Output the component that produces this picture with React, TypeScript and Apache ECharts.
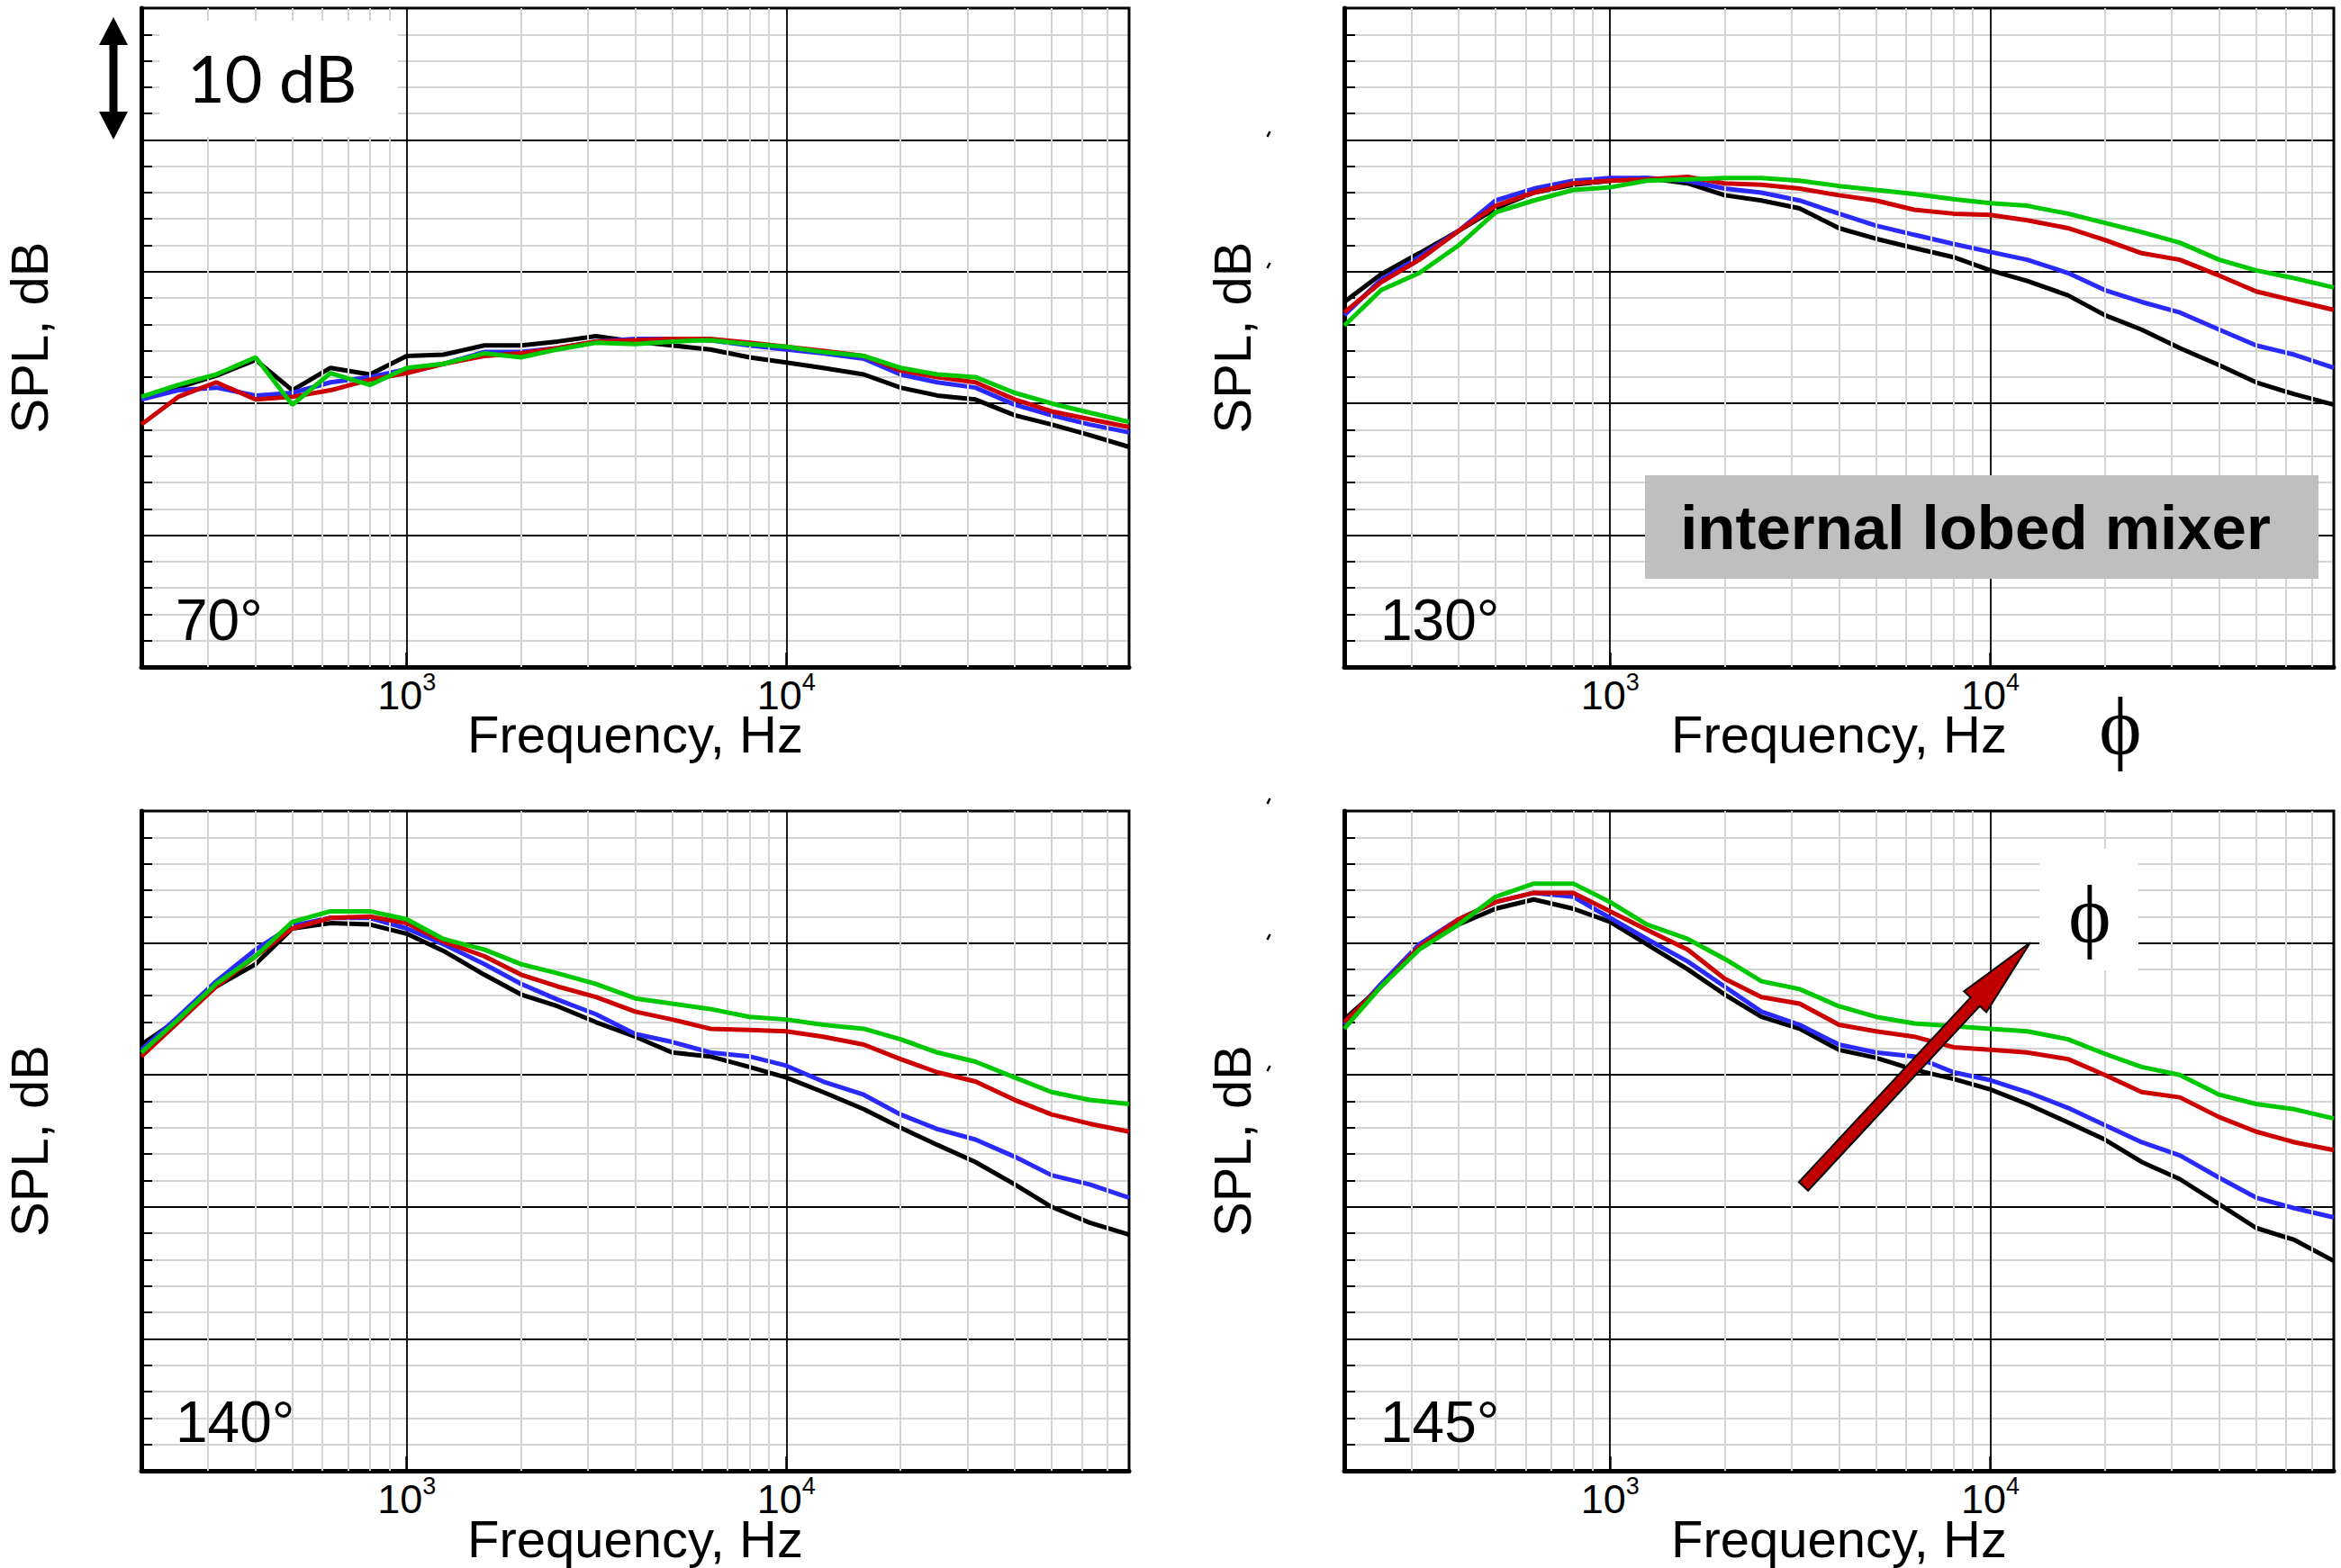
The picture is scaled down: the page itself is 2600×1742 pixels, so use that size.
import React, { useEffect, useRef } from "react";
import * as echarts from "echarts";

const FREQ = [200, 250, 315, 400, 500, 630, 800, 1000, 1250, 1600, 2000, 2500, 3150, 4000, 5000, 6300, 8000, 10000, 12500, 16000, 20000, 25000, 31500, 40000, 50000, 63000, 80000];

const P70_BLACK = [20.4, 21.2, 22.1, 23.3, 21.0, 22.7, 22.2, 23.6, 23.7, 24.4, 24.4, 24.7, 25.1, 24.7, 24.4, 24.1, 23.5, 23.1, 22.7, 22.2, 21.2, 20.6, 20.3, 19.1, 18.4, 17.6, 16.7];
const P70_BLUE = [20.3, 21.0, 21.2, 20.6, 20.8, 21.6, 22.0, 22.6, 23.0, 23.9, 23.9, 24.2, 24.7, 24.9, 24.9, 24.8, 24.4, 24.1, 23.8, 23.4, 22.2, 21.6, 21.2, 19.9, 19.1, 18.4, 17.8];
const P70_RED = [18.4, 20.5, 21.6, 20.3, 20.5, 21.0, 21.8, 22.3, 23.0, 23.6, 23.8, 24.2, 24.7, 24.8, 24.9, 24.9, 24.6, 24.3, 24.0, 23.6, 22.5, 22.0, 21.6, 20.3, 19.4, 18.8, 18.2];
const P70_GREEN = [20.5, 21.4, 22.2, 23.5, 19.9, 22.3, 21.4, 22.7, 23.0, 23.8, 23.5, 24.1, 24.6, 24.5, 24.7, 24.8, 24.5, 24.3, 23.9, 23.6, 22.7, 22.2, 22.0, 20.8, 20.0, 19.3, 18.6];

const P130_BLACK = [27.7, 29.8, 31.4, 33.1, 34.8, 36.0, 36.6, 36.9, 37.1, 36.7, 35.8, 35.4, 34.8, 33.3, 32.5, 31.8, 31.1, 30.1, 29.3, 28.2, 26.7, 25.6, 24.2, 22.9, 21.6, 20.7, 19.9];
const P130_BLUE = [26.7, 29.4, 31.1, 33.1, 35.4, 36.3, 36.9, 37.1, 37.1, 36.9, 36.3, 36.0, 35.4, 34.4, 33.5, 32.8, 32.1, 31.5, 30.9, 29.9, 28.6, 27.7, 26.9, 25.6, 24.4, 23.7, 22.7];
const P130_RED = [26.9, 29.2, 30.9, 33.1, 35.0, 36.0, 36.7, 36.9, 37.0, 37.2, 36.7, 36.6, 36.3, 35.8, 35.4, 34.7, 34.4, 34.3, 33.9, 33.3, 32.4, 31.4, 30.9, 29.7, 28.5, 27.8, 27.1];
const P130_GREEN = [25.9, 28.6, 29.9, 32.0, 34.5, 35.4, 36.2, 36.4, 36.9, 37.0, 37.1, 37.1, 36.9, 36.5, 36.2, 35.9, 35.5, 35.2, 35.0, 34.4, 33.7, 33.0, 32.2, 30.9, 30.1, 29.5, 28.8];

const P140_BLACK = [32.3, 34.2, 36.7, 38.4, 41.1, 41.5, 41.4, 40.7, 39.4, 37.6, 36.1, 35.2, 34.0, 32.9, 31.7, 31.4, 30.6, 29.8, 28.7, 27.4, 26.0, 24.7, 23.4, 21.7, 20.0, 18.8, 17.9];
const P140_BLUE = [31.9, 34.4, 37.1, 39.5, 41.3, 41.9, 41.9, 41.1, 39.9, 38.4, 36.9, 35.7, 34.6, 33.1, 32.5, 31.7, 31.4, 30.7, 29.5, 28.5, 27.0, 25.9, 25.1, 23.8, 22.4, 21.7, 20.7];
const P140_RED = [31.4, 34.0, 36.7, 39.0, 41.1, 41.9, 42.0, 41.5, 40.1, 39.0, 37.6, 36.7, 35.9, 34.8, 34.2, 33.5, 33.4, 33.3, 32.9, 32.3, 31.2, 30.2, 29.5, 28.1, 27.0, 26.3, 25.7];
const P140_GREEN = [31.7, 34.2, 36.9, 39.0, 41.6, 42.4, 42.4, 41.8, 40.3, 39.5, 38.4, 37.7, 36.9, 35.8, 35.4, 35.0, 34.4, 34.2, 33.8, 33.5, 32.7, 31.7, 31.0, 29.8, 28.7, 28.1, 27.8];

const P145_BLACK = [34.2, 36.7, 39.7, 41.4, 42.6, 43.3, 42.6, 41.6, 39.9, 38.0, 36.1, 34.4, 33.5, 31.9, 31.3, 30.4, 29.7, 28.9, 27.8, 26.4, 25.1, 23.4, 22.1, 20.2, 18.4, 17.5, 15.9];
const P145_BLUE = [33.8, 36.9, 39.9, 41.8, 43.1, 43.8, 43.5, 41.9, 40.3, 38.6, 36.7, 34.8, 33.8, 32.3, 31.7, 31.4, 30.2, 29.6, 28.7, 27.5, 26.2, 24.9, 23.9, 22.2, 20.7, 19.9, 19.2];
const P145_RED = [34.0, 36.7, 39.7, 41.8, 43.1, 43.8, 43.8, 42.4, 41.0, 39.5, 37.3, 35.9, 35.4, 33.8, 33.3, 32.9, 32.1, 31.9, 31.7, 31.2, 30.0, 28.7, 28.3, 26.8, 25.7, 24.9, 24.3];
const P145_GREEN = [33.5, 36.7, 39.5, 41.4, 43.5, 44.5, 44.5, 43.1, 41.4, 40.3, 38.8, 37.1, 36.5, 35.2, 34.4, 33.9, 33.7, 33.5, 33.3, 32.7, 31.6, 30.6, 30.0, 28.5, 27.8, 27.4, 26.7];

const ANGLE_LABELS = ["70°", "130°", "140°", "145°"];
const MINOR_FREQS = [300, 400, 500, 600, 700, 800, 900, 2000, 3000, 4000, 5000, 6000, 7000, 8000, 9000, 20000, 30000, 40000, 50000, 60000, 70000];
const SERIES_COLORS = ["#000000", "#2a2aff", "#cc0000", "#00c800"];

const PANELS = [
  [P70_BLACK, P70_BLUE, P70_RED, P70_GREEN],
  [P130_BLACK, P130_BLUE, P130_RED, P130_GREEN],
  [P140_BLACK, P140_BLUE, P140_RED, P140_GREEN],
  [P145_BLACK, P145_BLUE, P145_RED, P145_GREEN],
];

const SANS = "'Liberation Sans', Arial, sans-serif";
const SERIF = "'Liberation Serif', 'Times New Roman', serif";

const GRIDS = [
  { left: 157, top: 9, width: 1097, height: 732 },
  { left: 1493, top: 9, width: 1099, height: 732 },
  { left: 157, top: 901, width: 1097, height: 733 },
  { left: 1493, top: 901, width: 1099, height: 733 },
];
const X_NAME_GAPS = [45, 45, 46, 46];

function arrowPoints(tail: number[], tip: number[], shaftHalf: number, headHalf: number, headLen: number) {
  const dx = tip[0] - tail[0];
  const dy = tip[1] - tail[1];
  const len = Math.sqrt(dx * dx + dy * dy);
  const ux = dx / len, uy = dy / len;
  const nx = -uy, ny = ux;
  const bx = tip[0] - ux * headLen, by = tip[1] - uy * headLen;
  return [
    [tail[0] + nx * shaftHalf, tail[1] + ny * shaftHalf],
    [bx + nx * shaftHalf, by + ny * shaftHalf],
    [bx + nx * headHalf, by + ny * headHalf],
    [tip[0], tip[1]],
    [bx - nx * headHalf, by - ny * headHalf],
    [bx - nx * shaftHalf, by - ny * shaftHalf],
    [tail[0] - nx * shaftHalf, tail[1] - ny * shaftHalf],
  ];
}

function doubleArrowPoints(cx: number, top: number, bottom: number, shaftHalf: number, headHalf: number, headLen: number) {
  return [
    [cx, top],
    [cx + headHalf, top + headLen],
    [cx + shaftHalf, top + headLen],
    [cx + shaftHalf, bottom - headLen],
    [cx + headHalf, bottom - headLen],
    [cx, bottom],
    [cx - headHalf, bottom - headLen],
    [cx - shaftHalf, bottom - headLen],
    [cx - shaftHalf, top + headLen],
    [cx - headHalf, top + headLen],
  ];
}

function buildOption() {
  const grid = GRIDS.map((g) => ({
    ...g,
    show: true,
    borderColor: "#000",
    borderWidth: 3,
    backgroundColor: "transparent",
    z: 1.7,
  }));

  const xAxis = GRIDS.map((_, i) => ({
    type: "log",
    logBase: 10,
    gridIndex: i,
    min: 200,
    max: 80000,
    z: 1.6,
    name: "Frequency, Hz",
    nameLocation: "middle",
    nameGap: X_NAME_GAPS[i],
    nameMoveOverlap: false,
    nameTextStyle: { fontSize: 58, fontFamily: SANS, color: "#000" },
    axisLine: { show: true, lineStyle: { color: "#000", width: 5 } },
    axisTick: { show: true, inside: true, length: 16, lineStyle: { color: "#000", width: 2.5 } },
    splitLine: { show: true, lineStyle: { color: "#000", width: 1.8 } },
    minorTick: { show: false },
    minorSplitLine: { show: false },
    axisLabel: {
      show: true,
      margin: 3,
      showMinLabel: false,
      showMaxLabel: false,
      color: "#000",
      formatter: (v: number) => {
        const lg = Math.log10(v);
        const e = Math.round(lg);
        if (Math.abs(lg - e) < 1e-6 && (e === 3 || e === 4)) return `{b|10}{s|${e}}`;
        return "";
      },
      rich: {
        b: { fontSize: 45, fontFamily: SANS, color: "#000" },
        s: { fontSize: 27, fontFamily: SANS, color: "#000", padding: [0, 0, 30, 0] },
      },
    },
  }));

  const yAxis = GRIDS.map((_, i) => ({
    type: "value",
    gridIndex: i,
    min: 0,
    max: 50,
    interval: 10,
    z: 1.5,
    name: "SPL, dB",
    nameLocation: "middle",
    nameGap: 96,
    nameMoveOverlap: false,
    nameTextStyle: { fontSize: 58, fontFamily: SANS, color: "#000" },
    axisLine: { show: true, lineStyle: { color: "#000", width: 5 } },
    axisTick: { show: true, inside: true, length: 20, lineStyle: { color: "#000", width: 2 } },
    minorTick: { show: true, splitNumber: 5, length: 12, lineStyle: { color: "#000", width: 2 } },
    splitLine: { show: true, lineStyle: { color: "#000", width: 1.8 } },
    minorSplitLine: { show: true, lineStyle: { color: "#d4d4d4", width: 2 } },
    axisLabel: { show: false },
  }));

  const series: any[] = [];
  GRIDS.forEach((_, i) => {
    series.push({
      type: "line",
      xAxisIndex: i,
      yAxisIndex: i,
      data: [],
      z: 1,
      silent: true,
      markLine: {
        silent: true,
        symbol: ["none", "none"],
        label: { show: false },
        lineStyle: { color: "#d4d4d4", width: 2, type: "solid" },
        data: MINOR_FREQS.map((f) => ({ xAxis: f })),
      },
    });
    PANELS[i].forEach((vals, k) => {
      series.push({
        type: "line",
        xAxisIndex: i,
        yAxisIndex: i,
        z: 3 + k,
        showSymbol: false,
        symbol: "none",
        lineStyle: { color: SERIES_COLORS[k], width: 5 },
        itemStyle: { color: SERIES_COLORS[k] },
        data: FREQ.map((f, j) => [f, vals[j]]),
      });
    });
  });

  const labelPos = [
    [195, 689],
    [1533, 689],
    [195, 1580],
    [1533, 1580],
  ];

  const graphic: any[] = [
    // white box behind "10 dB"
    { type: "rect", z: 100, shape: { x: 177, y: 23, width: 265, height: 129 }, style: { fill: "#fff" } },
    { type: "text", z: 101, style: { text: "10 dB", x: 208, y: 86, fontSize: 72, fontFamily: "Lato, sans-serif", fill: "#000", align: "left", verticalAlign: "middle" } },
    { type: "polygon", z: 101, shape: { points: doubleArrowPoints(126, 19, 155, 4.5, 16, 31) }, style: { fill: "#000" } },
    // gray label box
    { type: "rect", z: 100, shape: { x: 1827, y: 528, width: 748, height: 115 }, style: { fill: "#bfbfbf" } },
    { type: "text", z: 101, style: { text: "internal lobed mixer", x: 2194, y: 586, fontSize: 69, fontWeight: "bold", fontFamily: SANS, fill: "#000", align: "center", verticalAlign: "middle" } },
    // phi below panel 2
    { type: "text", z: 101, style: { text: "ϕ", x: 2355, y: 807, fontSize: 90, fontFamily: SERIF, fill: "#000", align: "center", verticalAlign: "middle" } },
    // phi with white box in panel 4
    { type: "rect", z: 100, shape: { x: 2265, y: 943, width: 110, height: 135 }, style: { fill: "#fff" } },
    { type: "text", z: 101, style: { text: "ϕ", x: 2321, y: 1016, fontSize: 90, fontFamily: SERIF, fill: "#000", align: "center", verticalAlign: "middle" } },
    { type: "polygon", z: 102, shape: { points: arrowPoints([2003, 1318], [2255, 1047], 7, 17, 90) }, style: { fill: "#c00000", stroke: "#000", lineWidth: 2 } },
  ];
  ANGLE_LABELS.forEach((t, i) => {
    graphic.push({ type: "text", z: 101, style: { text: t, x: labelPos[i][0], y: labelPos[i][1], fontSize: 64, fontFamily: SANS, fill: "#000", align: "left", verticalAlign: "middle" } });
  });
  // small stray marks left of right-hand panels
  [[1409, 149], [1409, 295], [1409, 890], [1409, 1041], [1409, 1187]].forEach((p) => {
    graphic.push({ type: "line", z: 101, shape: { x1: p[0] - 1.5, y1: p[1] + 3, x2: p[0] + 1.5, y2: p[1] - 3 }, style: { stroke: "#000", lineWidth: 2.5 } });
  });

  return {
    animation: false,
    backgroundColor: "#ffffff",
    grid,
    xAxis,
    yAxis,
    series,
    graphic,
  };
}

export default function App() {
  const ref = useRef<HTMLDivElement>(null);
  useEffect(() => {
    if (!ref.current) return;
    const chart = echarts.init(ref.current, undefined, { renderer: "svg" });
    chart.setOption(buildOption() as any);
    return () => chart.dispose();
  }, []);
  return <div ref={ref} style={{ position: "absolute", left: 0, top: 0, width: 2600, height: 1742 }} />;
}
